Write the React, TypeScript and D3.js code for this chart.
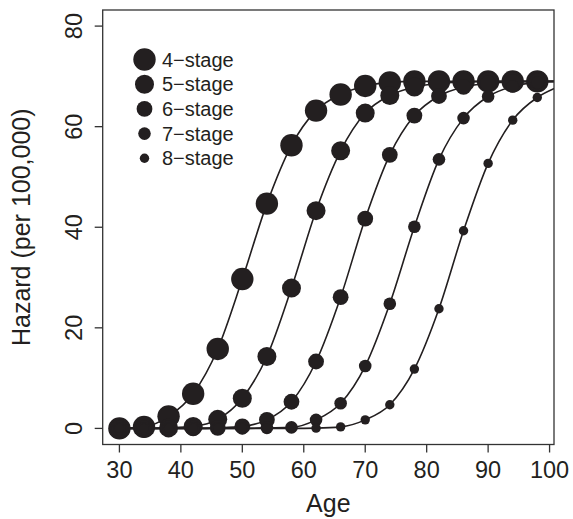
import React from "react";
import * as d3 from "d3";

const ages = [30, 34, 38, 42, 46, 50, 54, 58, 62, 66, 70, 74, 78, 82, 86, 90, 94, 98];
const stageNames = ["4\u2212stage", "5\u2212stage", "6\u2212stage", "7\u2212stage", "8\u2212stage"];
const stage4 = [0, 0.3, 2.4, 6.9, 15.8, 29.7, 44.7, 56.3, 63.2, 66.4, 68.1, 68.8, 69.0, 69.0, 69.0, 69.0, 69.0, 69.0];
const stage5 = [0, 0, 0.1, 0.4, 1.8, 6.0, 14.3, 27.9, 43.3, 55.2, 62.7, 66.2, 67.9, 68.6, 68.9, 69.0, 69.0, 69.0];
const stage6 = [0, 0, 0, 0, 0.1, 0.4, 1.7, 5.3, 13.3, 26.1, 41.7, 54.4, 62.2, 66.1, 67.9, 68.6, 68.9, 69.0];
const stage7 = [0, 0, 0, 0, 0, 0, 0.1, 0.2, 1.7, 5.0, 12.4, 24.8, 40.1, 53.5, 61.7, 66.0, 68.0, 68.8];
const stage8 = [0, 0, 0, 0, 0, 0, 0, 0, 0.05, 0.3, 1.7, 4.7, 11.8, 23.8, 39.3, 52.7, 61.3, 65.8];
const edgeAge = 101;
const edgeValues = [69.0, 69.0, 69.0, 69.0, 67.7];
const xTicks = [30, 40, 50, 60, 70, 80, 90, 100];
const yTicks = [0, 20, 40, 60, 80];
const radii = [11.2, 9.5, 7.9, 6.3, 4.7];

const series = [stage4, stage5, stage6, stage7, stage8];

const W = 573;
const H = 519;
const left = 102.7, right = 554, top = 10, bottom = 444.5;
const ink = "#231f20";
const font = "'Liberation Sans', Arial, Helvetica, sans-serif";

export default function App() {
  const x = d3.scaleLinear().domain([27.28, 100.72]).range([left, right]);
  const y = d3.scaleLinear().domain([-3.2, 83.2]).range([bottom, top]);
  const line = d3
    .line<[number, number]>()
    .x((d) => x(d[0]))
    .y((d) => y(d[1]))
    .curve(d3.curveMonotoneX);

  return (
    <svg
      width={W}
      height={H}
      style={{ position: "absolute", left: 0, top: 0, background: "#fff" }}
      fontFamily={font}
    >
      <defs>
        <clipPath id="plotclip">
          <rect x={left} y={top} width={right - left} height={bottom - top} />
        </clipPath>
      </defs>
      <rect x={0} y={0} width={W} height={H} fill="#fff" />
      {/* lines */}
      <g clipPath="url(#plotclip)">
        {series.map((vals, i) => {
          const pts: [number, number][] = ages.map((a, j) => [a, vals[j]] as [number, number]);
          pts.push([edgeAge, edgeValues[i]]);
          return <path key={i} d={line(pts) || ""} fill="none" stroke={ink} strokeWidth={1.6} />;
        })}
      </g>
      {/* points */}
      {series.map((vals, i) => (
        <g key={"p" + i}>
          {ages.map((a, j) => (
            <circle key={j} cx={x(a)} cy={y(vals[j])} r={radii[i]} fill={ink} />
          ))}
        </g>
      ))}
      {/* box */}
      <rect x={left} y={top} width={right - left} height={bottom - top} fill="none" stroke="#333" strokeWidth={1.3} />
      {/* x axis */}
      {xTicks.map((t) => (
        <g key={"xt" + t}>
          <line x1={x(t)} x2={x(t)} y1={bottom} y2={bottom + 8} stroke="#333" strokeWidth={1.3} />
          <text x={x(t)} y={478} textAnchor="middle" fontSize={23.5} fill={ink}>
            {t}
          </text>
        </g>
      ))}
      {/* y axis */}
      {yTicks.map((t) => (
        <g key={"yt" + t}>
          <line x1={left - 8} x2={left} y1={y(t)} y2={y(t)} stroke="#333" strokeWidth={1.3} />
          <text transform={`translate(82,${y(t)}) rotate(-90)`} textAnchor="middle" fontSize={23.5} fill={ink}>
            {t}
          </text>
        </g>
      ))}
      <text x={(left + right) / 2} y={511.5} textAnchor="middle" fontSize={25} fill={ink}>
        Age
      </text>
      <text
        transform={`translate(30,${(top + bottom) / 2}) rotate(-90)`}
        textAnchor="middle"
        fontSize={25}
        fill={ink}
      >
        Hazard (per 100,000)
      </text>
      {/* legend */}
      {stageNames.map((name, i) => {
        const cy = 59.5 + i * 24.7;
        return (
          <g key={"lg" + i}>
            <circle cx={144.5} cy={cy} r={radii[i]} fill={ink} />
            <text x={162} y={cy + 7} fontSize={20} fill={ink}>
              {name}
            </text>
          </g>
        );
      })}
    </svg>
  );
}
